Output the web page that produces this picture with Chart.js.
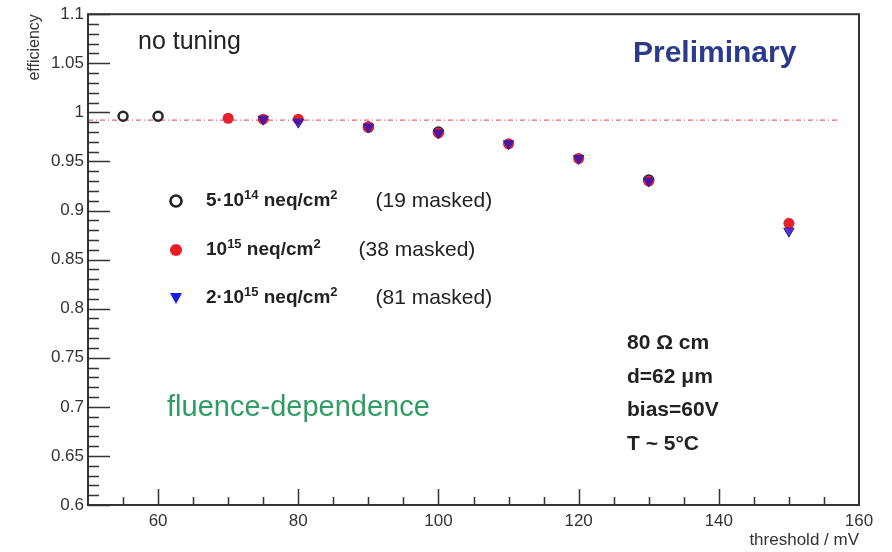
<!DOCTYPE html>
<html>
<head>
<meta charset="utf-8">
<title>efficiency vs threshold</title>
<script src="https://cdn.jsdelivr.net/npm/chart.js@4.4.1/dist/chart.umd.min.js"></script>
<style>
  body { margin: 0; background: #fff; }
  canvas { display: block; }
</style>
</head>
<body>
<canvas id="chart" width="892" height="552"></canvas>
<script>
'use strict';

// threshold (mV) and efficiency for each fluence
let lowThresholds = [55, 60, 90, 100, 130];
let lowEfficiency = [0.996, 0.996, 0.985, 0.980, 0.931];
let midThresholds = [70, 75, 80, 90, 100, 110, 120, 130, 150];
let midEfficiency = [0.994, 0.993, 0.993, 0.985, 0.979, 0.968, 0.953, 0.930, 0.887];
let highThresholds = [75, 80, 90, 100, 110, 120, 130, 150];
let highEfficiency = [0.993, 0.990, 0.985, 0.979, 0.968, 0.953, 0.930, 0.879];

// the dash-dotted 99% reference line
let refThresholds = [50, 157];
let refEfficiency = [0.992, 0.992];

// tick labels
let xTickValues = [60, 80, 100, 120, 140, 160];
let yTickValues = [0.6, 0.65, 0.7, 0.75, 0.8, 0.85, 0.9, 0.95, 1, 1.05, 1.1];

let legendRows = [
  { parts: [['5·10', false], ['14', true], [' neq/cm', false], ['2', true]], note: '(19 masked)' },
  { parts: [['10', false], ['15', true], [' neq/cm', false], ['2', true]], note: '(38 masked)' },
  { parts: [['2·10', false], ['15', true], [' neq/cm', false], ['2', true]], note: '(81 masked)' }
];
let conditionLines = ['80 Ω cm', 'd=62 μm', 'bias=60V', 'T ~ 5°C'];

const FONT = '"Liberation Sans", Arial, Helvetica, sans-serif';

// build {x, y} pairs for the scatter datasets
function toPoints(xs, ys) {
  return xs.map((x, i) => ({ x: x, y: ys[i] }));
}

// small marker painter, used for the legend only
function drawMarker(ctx, kind, x, y) {
  ctx.save();
  if (kind === 'open') {
    ctx.beginPath();
    ctx.arc(x, y, 5.5, 0, Math.PI * 2);
    ctx.lineWidth = 2.6;
    ctx.strokeStyle = '#222';
    ctx.stroke();
  } else if (kind === 'red') {
    ctx.beginPath();
    ctx.arc(x, y, 6, 0, Math.PI * 2);
    ctx.fillStyle = '#ec1c24';
    ctx.fill();
  } else {
    ctx.beginPath();
    ctx.moveTo(x - 6, y - 5);
    ctx.lineTo(x + 6, y - 5);
    ctx.lineTo(x, y + 6);
    ctx.closePath();
    ctx.fillStyle = '#1a1ae0';
    ctx.fill();
  }
  ctx.restore();
}

// writes text with superscript pieces, returns the x where it ends
function drawRich(ctx, parts, x, y, size) {
  parts.forEach(part => {
    let sup = part[1];
    ctx.font = 'bold ' + (sup ? Math.round(size * 0.68) : size) + 'px ' + FONT;
    ctx.fillText(part[0], x, sup ? y - size * 0.3 : y);
    x += ctx.measureText(part[0]).width;
  });
  return x;
}

// ROOT-like frame with inside ticks
const framePlugin = {
  id: 'frame',
  afterDraw(chart) {
    let ctx = chart.ctx;
    let area = chart.chartArea;
    let xs = chart.scales.x;
    let ys = chart.scales.y;
    ctx.save();
    ctx.strokeStyle = '#333';
    ctx.lineWidth = 2;
    ctx.strokeRect(area.left, area.top, area.right - area.left, area.bottom - area.top);
    ctx.lineWidth = 1.5;
    ctx.beginPath();
    for (let i = 0; i <= 50; i++) {
      let v = 0.6 + i * 0.01;
      let py = Math.round(ys.getPixelForValue(v)) + 0.5;
      let len = i % 5 === 0 ? 22 : 11;
      ctx.moveTo(area.left, py);
      ctx.lineTo(area.left + len, py);
    }
    for (let v = 55; v < 160; v += 5) {
      let px = Math.round(xs.getPixelForValue(v)) + 0.5;
      let len = v % 20 === 0 ? 16 : 8;
      ctx.moveTo(px, area.bottom);
      ctx.lineTo(px, area.bottom - len);
    }
    ctx.stroke();
    ctx.restore();
  }
};

// the free text of the plot
const textPlugin = {
  id: 'labels',
  afterDraw(chart) {
    let ctx = chart.ctx;
    ctx.save();
    ctx.textBaseline = 'middle';
    ctx.textAlign = 'left';

    ctx.fillStyle = '#222';
    ctx.font = '25px ' + FONT;
    ctx.fillText('no tuning', 138, 42);

    ctx.fillStyle = '#2c3a8e';
    ctx.font = 'bold 30px ' + FONT;
    ctx.fillText('Preliminary', 633, 54);

    let kinds = ['open', 'red', 'tri'];
    let rowY = [201, 250, 298];
    legendRows.forEach((row, i) => {
      drawMarker(ctx, kinds[i], 176, rowY[i]);
      ctx.fillStyle = '#222';
      let end = drawRich(ctx, row.parts, 206, rowY[i], 19);
      ctx.font = '21px ' + FONT;
      ctx.fillText(row.note, end + 38, rowY[i]);
    });

    ctx.fillStyle = '#2e9c63';
    ctx.font = '29px ' + FONT;
    ctx.fillText('fluence-dependence', 167, 408);

    ctx.fillStyle = '#222';
    ctx.font = 'bold 21px ' + FONT;
    let condY = [343, 377, 410, 444];
    conditionLines.forEach((line, i) => {
      ctx.fillText(line, 627, condY[i]);
    });
    ctx.restore();
  }
};

const canvasEl = document.getElementById('chart');

function drawChart() {
  return new Chart(canvasEl, {
    type: 'scatter',
    data: {
      datasets: [{
        label: 'reference',
        data: toPoints(refThresholds, refEfficiency),
        showLine: true,
        borderColor: 'rgba(232, 60, 80, 0.8)',
        borderWidth: 1.2,
        borderDash: [5, 3, 1, 3],
        pointRadius: 0,
        order: 4
      }, {
        label: '5e14',
        data: toPoints(lowThresholds, lowEfficiency),
        pointStyle: 'circle',
        pointRadius: 4.5,
        pointBorderWidth: 2.5,
        pointBackgroundColor: 'rgba(0,0,0,0)',
        pointBorderColor: '#262626',
        order: 3
      }, {
        label: '1e15',
        data: toPoints(midThresholds, midEfficiency),
        pointStyle: 'circle',
        pointRadius: 5.5,
        pointBorderWidth: 0,
        pointBackgroundColor: '#e3222c',
        order: 2
      }, {
        label: '2e15',
        data: toPoints(highThresholds, highEfficiency),
        pointStyle: 'triangle',
        rotation: 180,
        pointRadius: 6,
        pointBorderWidth: 1,
        pointBorderColor: '#3a1aa8',
        pointBackgroundColor: 'rgba(50, 20, 190, 0.85)',
        order: 1
      }]
    },
    options: {
      responsive: false,
      animation: false,
      layout: { padding: { left: 0, top: 14, right: 33, bottom: 0 } },
      plugins: {
        legend: { display: false },
        tooltip: { enabled: false }
      },
      scales: {
        x: {
          type: 'linear',
          min: 50,
          max: 160,
          afterBuildTicks: axis => { axis.ticks = xTickValues.map(v => ({ value: v })); },
          afterFit: axis => { axis.height = 47; },
          grid: { display: false, drawTicks: false },
          border: { display: false },
          ticks: { padding: 6, color: '#333', font: { family: FONT, size: 17 }, maxRotation: 0 },
          title: {
            display: true,
            text: 'threshold / mV',
            align: 'end',
            color: '#333',
            font: { family: FONT, size: 17 },
            padding: { top: 0, bottom: 1 }
          }
        },
        y: {
          type: 'linear',
          min: 0.6,
          max: 1.1,
          afterBuildTicks: axis => { axis.ticks = yTickValues.map(v => ({ value: v })); },
          afterFit: axis => { axis.width = 88; },
          grid: { display: false, drawTicks: false },
          border: { display: false },
          ticks: {
            padding: 4,
            color: '#333',
            font: { family: FONT, size: 17 },
            callback: value => String(Number(value.toFixed(2)))
          },
          title: {
            display: true,
            text: 'efficiency',
            align: 'end',
            color: '#333',
            font: { family: FONT, size: 16 },
            padding: { top: 25, bottom: 0 }
          }
        }
      }
    },
    plugins: [framePlugin, textPlugin]
  });
}

drawChart();
</script>
</body>
</html>
